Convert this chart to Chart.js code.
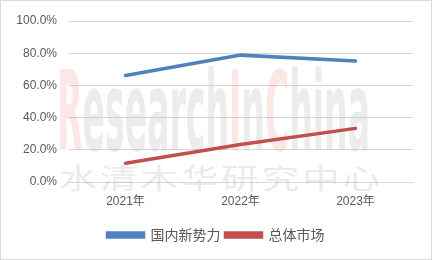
<!DOCTYPE html>
<html>
<head>
<meta charset="utf-8">
<script src="https://cdn.jsdelivr.net/npm/chart.js@4"></script>
<style>
  body { margin: 0; background: #fff; }
  canvas { display: block; }
</style>
</head>
<body>
<canvas id="chart" width="432" height="260"></canvas>
<script>
const years = ['2021年', '2022年', '2023年'];
const newPlayers = [0.662, 0.788, 0.752];
const wholeMarket = [0.117, 0.233, 0.333];
const yTicks = [0, 0.2, 0.4, 0.6, 0.8, 1.0];

const FONT = '"Liberation Sans", "Noto Sans CJK SC", sans-serif';
const CJK = '"Noto Sans CJK SC", sans-serif';

// faint watermark behind the lines + thin frame
const watermark = {
    id: 'watermark',
    beforeDatasetsDraw(chart) {
        const ctx = chart.ctx;
        ctx.save();
        const parts = [['R', 'rgba(235,90,90,0.15)'], ['esearch', 'rgba(170,170,170,0.22)'],
                       ['I', 'rgba(235,90,90,0.15)'], ['n', 'rgba(170,170,170,0.22)'],
                       ['C', 'rgba(235,90,90,0.15)'], ['hina', 'rgba(170,170,170,0.22)']];
        ctx.font = 'bold 110px "DejaVu Sans Condensed", "DejaVu Sans", sans-serif';
        ctx.textBaseline = 'alphabetic';
        let total = 0;
        parts.forEach(p => total += ctx.measureText(p[0]).width);
        const sx = 313 / total;
        ctx.translate(57, 150);
        ctx.scale(sx, 1);
        let x = 0;
        parts.forEach(p => {
            ctx.fillStyle = p[1];
            ctx.fillText(p[0], x, 0);
            x += ctx.measureText(p[0]).width;
        });
        ctx.restore();

        ctx.save();
        ctx.font = '30px ' + CJK;
        ctx.fillStyle = 'rgba(170,170,170,0.25)';
        ctx.textAlign = 'center';
        ctx.textBaseline = 'middle';
        const chars = '水清木华研究中心'.split('');
        chars.forEach((c, i) => {
            ctx.save();
            ctx.translate(78 + i * 40.5, 178);
            ctx.scale(1.25, 0.95);
            ctx.fillText(c, 0, 0);
            ctx.restore();
        });
        ctx.restore();
    },
    afterDraw(chart) {
        const ctx = chart.ctx;
        ctx.save();
        ctx.strokeStyle = '#d9d9d9';
        ctx.lineWidth = 1;
        ctx.strokeRect(0.5, 0.5, 431, 259);
        ctx.restore();
    }
};

new Chart(document.getElementById('chart').getContext('2d'), {
    type: 'line',
    data: {
        labels: years,
        datasets: [{
            label: '国内新势力',
            data: newPlayers,
            borderColor: '#4f81bd',
            backgroundColor: '#4f81bd',
            borderWidth: 3.5,
            pointRadius: 0,
            tension: 0,
            borderCapStyle: 'round'
        }, {
            label: '总体市场',
            data: wholeMarket,
            borderColor: '#c0504d',
            backgroundColor: '#c0504d',
            borderWidth: 3.5,
            pointRadius: 0,
            tension: 0,
            borderCapStyle: 'round'
        }]
    },
    options: {
        responsive: false,
        animation: false,
        layout: { padding: { left: 0, right: 0, top: 21, bottom: 8 } },
        plugins: {
            tooltip: { enabled: false },
            legend: {
                position: 'bottom',
                labels: {
                    boxWidth: 36,
                    boxHeight: 4,
                    padding: 5,
                    color: '#595959',
                    font: { family: CJK, size: 14 }
                }
            }
        },
        scales: {
            x: {
                offset: true,
                grid: { display: false, drawTicks: false },
                border: { color: '#d9d9d9', width: 1 },
                ticks: { color: '#595959', font: { family: FONT, size: 12 }, padding: 12, maxRotation: 0 },
                afterFit: s => { s.height = 41; }
            },
            y: {
                min: 0,
                max: 1,
                afterBuildTicks: s => { s.ticks = yTicks.map(v => ({ value: v })); },
                grid: { color: '#d9d9d9', drawTicks: false },
                border: { display: false },
                ticks: {
                    color: '#595959',
                    font: { family: FONT, size: 12 },
                    padding: 11,
                    callback: v => (v * 100).toFixed(1) + '%'
                },
                afterFit: s => { s.width = 68; }
            },
            yRight: {
                position: 'right',
                min: 0,
                max: 1,
                grid: { display: false },
                border: { display: false },
                ticks: { display: false },
                afterFit: s => { s.width = 19; }
            }
        }
    },
    plugins: [watermark]
});
</script>
</body>
</html>
